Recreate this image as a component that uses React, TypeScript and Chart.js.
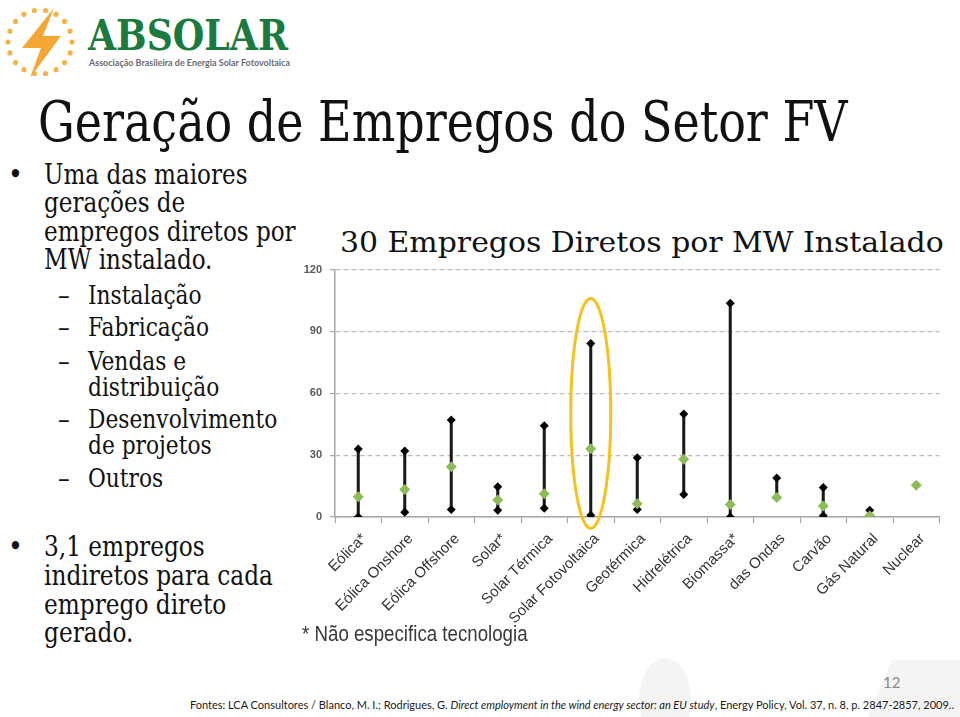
import React, { useEffect, useRef } from "react";
import { Chart, registerables } from "chart.js";

Chart.register(...registerables);

const categories = [
  "Eólica*",
  "Eólica Onshore",
  "Eólica Offshore",
  "Solar*",
  "Solar Térmica",
  "Solar Fotovoltaica",
  "Geotérmica",
  "Hidrelétrica",
  "Biomassa*",
  "das Ondas",
  "Carvão",
  "Gás Natural",
  "Nuclear",
];
const maxValues: (number | null)[] = [33, 32, 47, 14.7, 44.2, 84.2, 28.7, 49.9, 103.7, 18.9, 14.3, 3.3, null];
const minValues: (number | null)[] = [0, 2.3, 3.6, 3.3, 4.2, 0.8, 3.6, 10.9, 0, 9.5, 0.6, 0.6, null];
const avgValues: (number | null)[] = [9.8, 13.3, 24.4, 8.3, 11.3, 33.1, 6.4, 28.0, 6.1, 9.5, 5.3, 0.6, 15.4];
const yTicks = [0, 30, 60, 90, 120];
const highlighted = "Solar Fotovoltaica";

const chartTitle = "30 Empregos Diretos por MW Instalado";
const heading = "Geração de Empregos do Setor FV";
const bullet1 = ["Uma das maiores", "gerações de", "empregos diretos por", "MW instalado."];
const subBullets = [["Instalação"], ["Fabricação"], ["Vendas e", "distribuição"], ["Desenvolvimento", "de projetos"], ["Outros"]];
const bullet2 = ["3,1 empregos", "indiretos para cada", "emprego direto", "gerado."];
const footnote = "* Não especifica tecnologia";
const pageNumber = "12";

const SERIF = '"DejaVu Serif Condensed", "DejaVu Serif", serif';
const SANS = '"Liberation Sans", Arial, sans-serif';

const ellipsePlugin = {
  id: "highlightEllipse",
  afterDraw(chart: any) {
    const idx = categories.indexOf(highlighted);
    if (idx < 0) return;
    const x = chart.scales.x;
    const y = chart.scales.y;
    const cx = x.getPixelForValue(idx);
    const top = y.getPixelForValue(maxValues[idx] as number) - 45;
    const bottom = y.getPixelForValue(minValues[idx] as number) + 13;
    const w = (x.width / categories.length) * 0.43;
    const ctx = chart.ctx;
    ctx.save();
    ctx.beginPath();
    ctx.ellipse(cx, (top + bottom) / 2, w, (bottom - top) / 2, 0, 0, Math.PI * 2);
    ctx.strokeStyle = "#f5c21b";
    ctx.lineWidth = 3;
    ctx.stroke();
    ctx.restore();
  },
};

function EmploymentChart() {
  const ref = useRef<HTMLCanvasElement | null>(null);
  useEffect(() => {
    if (!ref.current) return;
    const chart = new Chart(ref.current, {
      type: "bar",
      data: {
        labels: categories,
        datasets: [
          {
            type: "line" as any,
            label: "Média",
            data: avgValues,
            showLine: false,
            pointStyle: "rectRot",
            pointRadius: 5.5,
            pointBackgroundColor: "#8dbb57",
            pointBorderColor: "#8dbb57",
            pointBorderWidth: 0,
            order: 0,
          } as any,
          {
            type: "line" as any,
            label: "Máximo",
            data: maxValues,
            showLine: false,
            pointStyle: "rectRot",
            pointRadius: 4.5,
            pointBackgroundColor: "#000000",
            pointBorderColor: "#000000",
            pointBorderWidth: 0,
            order: 1,
          } as any,
          {
            type: "line" as any,
            label: "Mínimo",
            data: minValues,
            showLine: false,
            pointStyle: "rectRot",
            pointRadius: 4.5,
            pointBackgroundColor: "#000000",
            pointBorderColor: "#000000",
            pointBorderWidth: 0,
            order: 1,
          } as any,
          {
            type: "bar",
            label: "Faixa",
            data: categories.map((_, i) =>
              minValues[i] == null || maxValues[i] == null ? null : [minValues[i], maxValues[i]]
            ) as any,
            backgroundColor: "#1a1a1a",
            barThickness: 2.4,
            order: 2,
          },
        ],
      },
      options: {
        animation: false,
        responsive: false,
        devicePixelRatio: 1,
        layout: { padding: { top: 6, left: 0, right: 0, bottom: 0 } },
        plugins: {
          legend: { display: false },
          tooltip: { enabled: false },
          title: { display: false },
        },
        scales: {
          x: {
            offset: true,
            grid: {
              offset: true,
              drawOnChartArea: false,
              drawTicks: true,
              tickLength: 6,
              tickColor: "#a6a6a6",
              tickWidth: 1.2,
            },
            border: { display: true, color: "#a6a6a6", width: 1.5 },
            ticks: {
              autoSkip: false,
              maxRotation: 45,
              minRotation: 45,
              padding: 7,
              labelOffset: 6,
              color: "#333333",
              font: { family: SANS, size: 15 },
            },
            afterFit(s: any) {
              s.height = 130;
            },
          },
          y: {
            min: 0,
            max: 120,
            afterBuildTicks(s: any) {
              s.ticks = yTicks.map((v) => ({ value: v }));
            },
            grid: {
              color: "#bdbdbd",
              lineWidth: 1.2,
              tickLength: 5,
              tickColor: "#a6a6a6",
              tickBorderDash: [],
            } as any,
            border: { display: true, color: "#a6a6a6", width: 1.5, dash: [5, 3] },
            ticks: {
              padding: 8,
              color: "#595959",
              font: { family: SANS, size: 11, weight: "bold" },
            },
            afterFit(s: any) {
              s.width = 45;
            },
          },
        },
      },
      plugins: [ellipsePlugin],
    });
    return () => chart.destroy();
  }, []);
  return (
    <canvas
      ref={ref}
      width={655}
      height={392}
      style={{ position: "absolute", left: 290, top: 255, width: 655, height: 392 }}
    />
  );
}

function Logo() {
  const dots = [];
  const n = 18;
  for (let i = 0; i < n; i++) {
    const a = (i / n) * Math.PI * 2;
    dots.push(<circle key={i} cx={40 + Math.cos(a) * 32} cy={42 + Math.sin(a) * 32} r={2.6} fill="#f6b347" />);
  }
  return (
    <svg width={300} height={85} style={{ position: "absolute", left: 0, top: 0 }}>
      {dots}
      <polygon points="54,8 22,48 41,48 30,78 61,36 43,36" fill="#f4a733" />
      <text
        x={88}
        y={50}
        textLength={200}
        lengthAdjust="spacingAndGlyphs"
        fill="#1b7a3e"
        style={{ fontFamily: SERIF, fontSize: 42, fontWeight: 700 }}
      >
        ABSOLAR
      </text>
      <text
        x={89}
        y={66}
        textLength={201}
        lengthAdjust="spacingAndGlyphs"
        fill="#6b6b6b"
        style={{ fontFamily: "Lato, sans-serif", fontSize: 10, fontWeight: 700 }}
      >
        Associação Brasileira de Energia Solar Fotovoltaica
      </text>
    </svg>
  );
}

export default function App() {
  const abs = (left: number, top: number, extra: any = {}) => ({
    position: "absolute" as const,
    left,
    top,
    whiteSpace: "nowrap" as const,
    margin: 0,
    ...extra,
  });
  const sx = (s: number) => ({ transform: `scaleX(${s})`, transformOrigin: "left top" });
  const main = { fontFamily: SERIF, fontSize: 28, lineHeight: "28.4px", color: "#111" };
  const sub = { fontFamily: SERIF, fontSize: 26, lineHeight: "26px", color: "#111" };
  const subTops = [282, 314, 348, 406, 465];
  return (
    <div style={{ position: "absolute", left: 0, top: 0, width: 960, height: 717, background: "#fff", overflow: "hidden" }}>
      <svg width={960} height={717} style={{ position: "absolute", left: 0, top: 0 }}>
        <ellipse cx={665} cy={700} rx={26} ry={42} fill="#f4f4f4" />
        <polygon points="892,660 960,660 960,717 868,717" fill="#f4f4f4" />
      </svg>
      <Logo />
      <div style={abs(38, 94, { fontFamily: SERIF, fontSize: 56, lineHeight: "56px", color: "#111", ...sx(0.913) })}>
        {heading}
      </div>
      <div style={abs(8, 161, main)}>•</div>
      <div style={abs(44, 161, { ...main, ...sx(0.916) })}>
        {bullet1.map((l, i) => (
          <div key={i}>{l}</div>
        ))}
      </div>
      {subBullets.map((lines, i) => (
        <React.Fragment key={i}>
          <div style={abs(58, subTops[i], sub)}>–</div>
          <div style={abs(88, subTops[i], { ...sub, ...sx(0.93) })}>
            {lines.map((l, j) => (
              <div key={j}>{l}</div>
            ))}
          </div>
        </React.Fragment>
      ))}
      <div style={abs(8, 533, { ...main, lineHeight: "28.8px" })}>•</div>
      <div style={abs(44, 533, { ...main, lineHeight: "28.8px", ...sx(0.923) })}>
        {bullet2.map((l, i) => (
          <div key={i}>{l}</div>
        ))}
      </div>
      <div style={abs(340, 228, { fontFamily: SERIF, fontSize: 28, lineHeight: "30px", color: "#111", ...sx(1.187) })}>
        {chartTitle}
      </div>
      <EmploymentChart />
      <div style={abs(302, 621, { fontFamily: SANS, fontSize: 22, lineHeight: "26px", color: "#3a3a3a", ...sx(0.85) })}>
        {footnote}
      </div>
      <div style={abs(883, 673, { fontFamily: "Lato, sans-serif", fontSize: 15, lineHeight: "18px", color: "#8a8a8a" })}>
        {pageNumber}
      </div>
      <div style={abs(190, 698, { fontFamily: "Lato, sans-serif", fontSize: 11, lineHeight: "14px", color: "#1a1a1a" })}>
        Fontes: LCA Consultores / Blanco, M. I.; Rodrigues, G. <i>Direct employment in the wind energy sector: an EU study</i>, Energy Policy, Vol. 37, n. 8, p. 2847-2857, 2009..
      </div>
    </div>
  );
}
